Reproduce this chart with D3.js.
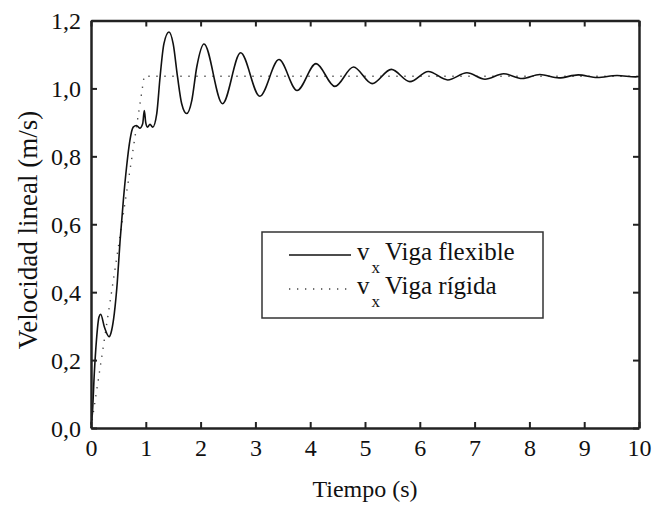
<!DOCTYPE html>
<html>
<meta charset="utf-8">
<body>
<script src="https://d3js.org/d3.v7.min.js"></script>
<script>

    // data: time (s) and linear velocity (m/s)
    var tFlex = [0, 0.024, 0.06, 0.10, 0.146, 0.177, 0.243, 0.33, 0.377, 0.425, 0.48, 0.53, 0.59, 0.65, 0.71, 0.77,
        0.83, 0.89, 0.943, 0.973, 0.998, 1.03, 1.077, 1.126, 1.2, 1.26, 1.33, 1.423, 1.50, 1.58, 1.655, 1.746,
        1.84, 1.93, 2.062, 2.40, 2.73, 3.08, 3.43, 3.76, 4.106, 4.45, 4.79, 5.13, 5.48, 5.82, 6.155, 6.51,
        6.86, 7.19, 7.53, 7.87, 8.19, 8.54, 8.89, 9.24, 9.6, 9.94, 10];
    var vFlex = [0.01, 0.04, 0.16, 0.26, 0.327, 0.335, 0.298, 0.269, 0.288, 0.337, 0.43, 0.55, 0.67, 0.77, 0.847, 0.886,
        0.891, 0.883, 0.896, 0.935, 0.90, 0.886, 0.894, 0.886, 0.926, 1.033, 1.131, 1.166, 1.131, 1.033, 0.955, 0.926,
        0.965, 1.063, 1.131, 0.955, 1.105, 0.977, 1.085, 0.994, 1.073, 1.006, 1.063, 1.014, 1.056, 1.02, 1.05, 1.025,
        1.046, 1.027, 1.043, 1.029, 1.041, 1.031, 1.040, 1.032, 1.038, 1.034, 1.035];

    var tRigid = [0, 0.97, 10];
    var vRigid = [0, 1.036, 1.036];

    var xTicks = [0, 1, 2, 3, 4, 5, 6, 7, 8, 9, 10];
    var yTicks = [0, 0.2, 0.4, 0.6, 0.8, 1.0, 1.2];

    var seriesNames = ["Viga flexible", "Viga rígida"];

    var flex = tFlex.map(function (t, i) { return { t: t, v: vFlex[i] }; });
    var rigid = tRigid.map(function (t, i) { return { t: t, v: vRigid[i] }; });

    // dimensions
    var W = 656, H = 505;
    var margin = { top: 20.5, right: 17, bottom: 77, left: 91 },
        width = W - margin.left - margin.right,
        height = H - margin.top - margin.bottom;
    var serif = "'Times New Roman'";

    var x = d3.scaleLinear().domain([0, 10]).range([0, width]);
    var y = d3.scaleLinear().domain([0, 1.2]).range([height, 0]);

    d3.select("body").style("margin", "0");

    var svg = d3.select("body").append("svg")
        .attr("width", W)
        .attr("height", H)
        .append("g")
        .attr("transform", "translate(" + margin.left + "," + margin.top + ")");

    var fmt = function (d) { return d3.format(".1f")(d).replace(".", ","); };

    // curves
    var line = d3.line()
        .x(function (d) { return x(d.t); })
        .y(function (d) { return y(d.v); })
        .curve(d3.curveMonotoneX);

    var lineRigid = d3.line()
        .x(function (d) { return x(d.t); })
        .y(function (d) { return y(d.v); });

    svg.append("path")
        .datum(rigid)
        .attr("d", lineRigid)
        .attr("fill", "none")
        .attr("stroke", "#444")
        .attr("stroke-width", 1.4)
        .attr("stroke-dasharray", "1.3,6.7");

    svg.append("path")
        .datum(flex)
        .attr("d", line)
        .attr("fill", "none")
        .attr("stroke", "#111")
        .attr("stroke-width", 1.6);

    // axes (ticks point inward), frame on all four sides
    function frame(g) {
        g.select(".domain").attr("stroke", "#222").attr("stroke-width", 2.5);
        g.selectAll(".tick line").attr("stroke", "#222").attr("stroke-width", 2);
    }

    var gx = svg.append("g")
        .attr("transform", "translate(0," + height + ")")
        .call(d3.axisBottom(x).tickValues(xTicks).tickSizeInner(-6).tickSizeOuter(0).tickPadding(11).tickFormat(d3.format("d")))
        .call(frame);
    gx.selectAll("text")
        .style("font-family", serif)
        .attr("font-size", "24px")
        .attr("fill", "#111");

    var gy = svg.append("g")
        .call(d3.axisLeft(y).tickValues(yTicks).tickSizeInner(-6).tickSizeOuter(0).tickPadding(10).tickFormat(fmt))
        .call(frame);
    gy.selectAll("text")
        .style("font-family", serif)
        .attr("font-size", "24px")
        .attr("fill", "#111")
        .attr("dy", "0.34em");

    svg.append("g")
        .call(d3.axisTop(x).tickValues(xTicks).tickSizeInner(-6).tickSizeOuter(0).tickFormat(""))
        .call(frame);
    svg.append("g")
        .attr("transform", "translate(" + width + ",0)")
        .call(d3.axisRight(y).tickValues(yTicks).tickSizeInner(-6).tickSizeOuter(0).tickFormat(""))
        .call(frame);

    // axis titles
    svg.append("text")
        .attr("x", width / 2)
        .attr("y", height + 69)
        .attr("text-anchor", "middle")
        .style("font-family", serif)
        .attr("font-size", "24px")
        .attr("fill", "#111")
        .text("Tiempo (s)");

    svg.append("text")
        .attr("transform", "translate(" + (37 - margin.left) + "," + (230 - margin.top) + ") rotate(-90)")
        .attr("text-anchor", "middle")
        .style("font-family", serif)
        .attr("font-size", "27px")
        .attr("fill", "#111")
        .text("Velocidad lineal (m/s)");

    // legend
    var lg = svg.append("g")
        .attr("transform", "translate(" + (262 - margin.left) + "," + (232 - margin.top) + ")");

    lg.append("rect")
        .attr("width", 281)
        .attr("height", 86)
        .attr("fill", "#fff")
        .attr("stroke", "#333")
        .attr("stroke-width", 1.5);

    seriesNames.forEach(function (name, i) {
        var row = lg.append("g").attr("transform", "translate(0," + (23 + i * 34) + ")");
        row.append("line")
            .attr("x1", 27).attr("x2", 89)
            .attr("stroke", i === 0 ? "#111" : "#444")
            .attr("stroke-width", i === 0 ? 1.6 : 1.4)
            .attr("stroke-dasharray", i === 0 ? null : "1.3,6.7");
        var t = row.append("text")
            .attr("x", 95).attr("y", 5)
            .style("font-family", serif)
            .attr("font-size", "25px")
            .attr("fill", "#111");
        t.append("tspan").text("v");
        t.append("tspan").attr("dy", 13).attr("dx", 2).attr("font-size", "17px").text("x");
        t.append("tspan").attr("x", 123).attr("dy", -13).text(name);
    });

</script>
</body>
</html>
